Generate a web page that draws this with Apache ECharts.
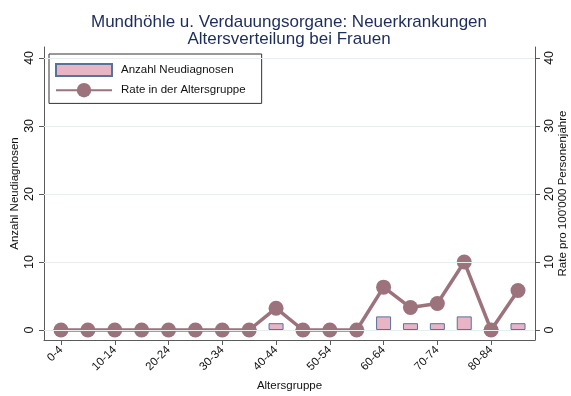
<!DOCTYPE html>
<html>
<head>
<meta charset="utf-8">
<script src="https://cdn.jsdelivr.net/npm/echarts@6/dist/echarts.min.js"></script>
<style>
  html, body { margin: 0; padding: 0; background: #fff; }
  #chart { width: 571px; height: 396px; }
</style>
</head>
<body>
<div id="chart"></div>
<script>
// Age groups (5-year bands)
const categories = ['0-4', '5-9', '10-14', '15-19', '20-24', '25-29', '30-34', '35-39',
  '40-44', '45-49', '50-54', '55-59', '60-64', '65-69', '70-74', '75-79', '80-84', '85+'];
// New diagnoses per age group
const counts = [0, 0, 0, 0, 0, 0, 0, 0, 1, 0, 0, 0, 2, 1, 1, 2, 0, 1];
// Rate per 100'000 person-years
const rates = [0, 0, 0, 0, 0, 0, 0, 0, 3.2, 0, 0, 0, 6.3, 3.3, 3.9, 10.0, 0, 5.8];
// Axis ticks
const yTicks = [0, 10, 20, 30, 40];
const xTickIdx = [0, 2, 4, 6, 8, 10, 12, 14, 16];

const font = 'Liberation Sans, Arial, sans-serif';
const axisColor = '#5a5a5a';
const lineColor = '#9c727c';

const chart = echarts.init(document.getElementById('chart'));

function yAxisDef(pos, name) {
  return {
    type: 'value',
    position: pos,
    min: -1.47,
    max: 41.6,
    name: name,
    nameLocation: 'middle',
    nameRotate: 90,
    nameMoveOverlap: false,
    nameGap: pos === 'left' ? 23 : 22,
    nameTextStyle: { fontFamily: font, fontSize: 11.5, color: '#111' },
    axisLine: { show: true, onZero: false, lineStyle: { color: axisColor, width: 1 } },
    axisTick: { show: true, length: 5, customValues: yTicks, lineStyle: { color: axisColor } },
    axisLabel: { customValues: yTicks, rotate: 90, margin: 8, fontFamily: font, fontSize: 12.5, color: '#111' },
    splitLine: { show: false }
  };
}

chart.setOption({
  backgroundColor: '#fff',
  animation: false,
  title: {
    text: 'Mundhöhle u. Verdauungsorgane: Neuerkrankungen\nAltersverteilung bei Frauen',
    left: 284,
    textAlign: 'center',
    top: 9,
    textStyle: { fontFamily: font, fontSize: 17, fontWeight: 'normal', color: '#1c2d5c', lineHeight: 17 }
  },
  legend: {
    orient: 'vertical',
    left: 49,
    top: 54,
    padding: [6, 16, 6, 6],
    itemGap: 3,
    itemWidth: 56,
    itemHeight: 18,
    borderColor: '#333',
    borderWidth: 1,
    textStyle: { fontFamily: font, fontSize: 11.5, color: '#111', padding: [0, 0, 0, 4] },
    data: [
      { name: 'Anzahl Neudiagnosen', icon: 'path://M0,0M56,18M0,3L56,3L56,15L0,15Z' },
      { name: 'Rate in der Altersgruppe' }
    ]
  },
  grid: { left: 44, right: 36, top: 47, bottom: 56, containLabel: false, outerBoundsMode: 'none' },
  xAxis: {
    type: 'value',
    min: -0.632,
    max: 17.632,
    name: 'Altersgruppe',
    nameLocation: 'middle',
    nameMoveOverlap: false,
    nameGap: 40,
    nameTextStyle: { fontFamily: font, fontSize: 11.5, color: '#111' },
    axisLine: { show: true, onZero: false, lineStyle: { color: axisColor } },
    axisTick: { show: true, length: 5, customValues: xTickIdx, lineStyle: { color: axisColor } },
    axisLabel: {
      customValues: xTickIdx,
      rotate: 45,
      margin: 8,
      fontFamily: font,
      fontSize: 11.5,
      color: '#111',
      formatter: v => categories[Math.round(v)]
    },
    splitLine: { show: false }
  },
  yAxis: [
    yAxisDef('left', 'Anzahl Neudiagnosen'),
    yAxisDef('right', "Rate pro 100'000 Personenjahre")
  ],
  series: [
    {
      name: 'Anzahl Neudiagnosen',
      type: 'bar',
      yAxisIndex: 0,
      barWidth: 15,
      data: counts.map((v, i) => [i, v]),
      itemStyle: { color: '#e9b5c6', borderColor: '#56739c', borderWidth: 1 },
      markLine: {
        silent: true,
        symbol: 'none',
        label: { show: false },
        lineStyle: { color: '#e5eef1', type: 'solid', width: 1 },
        data: yTicks.map(t => ({ yAxis: t }))
      },
      z: 2
    },
    {
      name: 'Rate in der Altersgruppe',
      type: 'line',
      yAxisIndex: 1,
      data: rates.map((v, i) => [i, v]),
      symbol: 'circle',
      symbolSize: 15,
      lineStyle: { color: lineColor, width: 3.5 },
      itemStyle: { color: lineColor },
      z: 3
    }
  ]
});
</script>
</body>
</html>
